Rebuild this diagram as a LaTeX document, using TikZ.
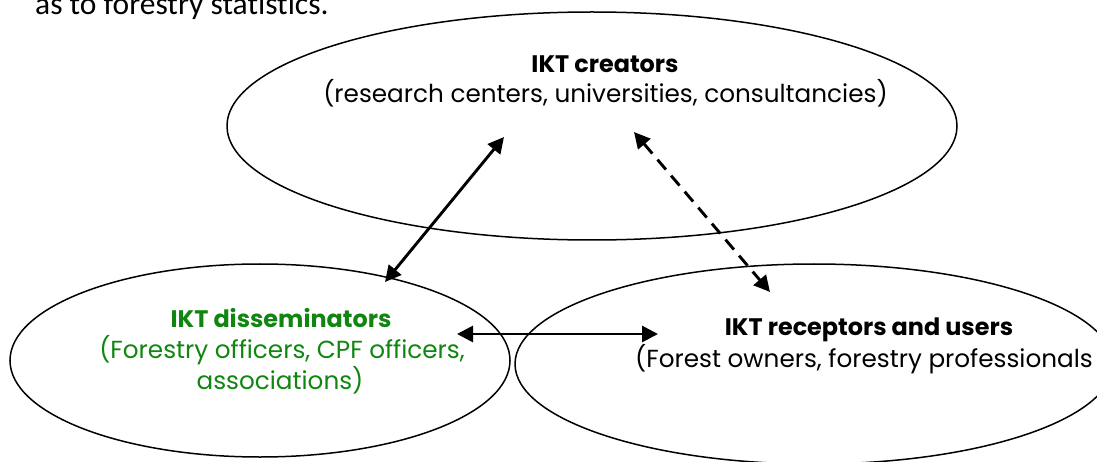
\documentclass[tikz,border=0pt]{standalone}
\usepackage{fontspec}
\setmainfont{Poppins}
\newfontfamily\calib[Ligatures=NoCommon]{Carlito}
\usetikzlibrary{shapes.geometric,arrows.meta}
\definecolor{dgreen}{RGB}{16,134,16}
\begin{document}
\begin{tikzpicture}[x=1pt,y=-1pt,
  oval/.style={draw, line width=1.5pt, ellipse, inner sep=0pt},
  link/.style={line width=2.9pt, {Triangle[length=16pt,width=16pt]}-{Triangle[length=16pt,width=16pt]}},
  lbl/.style={font=\fontsize{24.7}{31}\selectfont, inner sep=0pt, anchor=base},
  ttl/.style={font=\bfseries\fontsize{23.9}{31}\selectfont, inner sep=0pt, anchor=base}]
\useasboundingbox (0,0) rectangle (1097,462);
\node[anchor=base west, font=\calib\fontsize{31.5}{36}\selectfont, inner sep=0pt] (head) at (35,15) {as to forestry statistics.};
% ellipses
\node[oval, minimum width=730pt, minimum height=228pt] (ce) at (592,126) {};
\node[oval, minimum width=500pt, minimum height=193pt] (de) at (260,360.5) {};
\node[oval, minimum width=598pt, minimum height=200pt] (re) at (814,364) {};
% texts
\node[ttl] (ct) at (605,73) {IKT creators};
\node[lbl] (cs) at (605.5,103) {(research centers, universities, consultancies)};
\node[ttl, text=dgreen] (dt) at (281,327) {IKT disseminators};
\node[lbl, text=dgreen] (ds1) at (282,358) {(Forestry officers, CPF officers,};
\node[lbl, text=dgreen] (ds2) at (280,389) {associations)};
\node[ttl] (rt) at (869,335) {IKT receptors and users};
\node[lbl, anchor=base west] (rs) at (635,367) {(Forest owners, forestry professionals};
% arrows
\coordinate (a1) at (385,282);
\coordinate (a2) at (504,137);
\coordinate (b1) at (634,132);
\coordinate (b2) at (770,292);
\coordinate (c1) at (457,334);
\coordinate (c2) at (658,334);
\draw[link] (a1) -- (a2);
\draw[link, dash pattern=on 13pt off 8pt] (b1) -- (b2);
\draw[link] (c1) -- (c2);
\end{tikzpicture}
\end{document}
